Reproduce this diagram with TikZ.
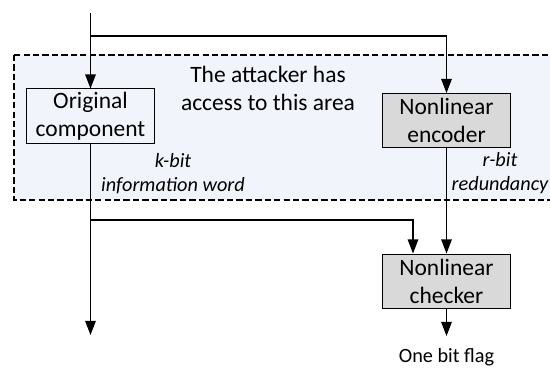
\documentclass[tikz,border=0pt]{standalone}
\usepackage{fontspec}
\setmainfont{Carlito}
\usetikzlibrary{arrows.meta, positioning}
\definecolor{areafill}{RGB}{241,244,250}
\definecolor{boxgray}{RGB}{217,217,217}
\tikzset{
	unit/.style={draw, line width=0.7pt, minimum width=3.175cm, minimum height=1.35cm, inner sep=0pt, align=center, font=\fontsize{16.7}{19.9}\selectfont},
	grayunit/.style={unit, fill=boxgray},
	wire/.style={line width=0.8pt, -{Triangle[length=10pt, width=7.5pt]}},
	buslabel/.style={align=center, font=\fontsize{14.4}{17}\selectfont\itshape}
}
\begin{document}
\begin{tikzpicture}[x=0.025cm, y=-0.025cm]
	     \clip (0,0) rectangle (550,367);
	     \useasboundingbox (0,0) rectangle (550,367);
	     % area %
	     \fill[areafill] (14,55) rectangle (560,200);
	     \draw[line width=1.3pt, dash pattern=on 4.5pt off 2.2pt] (14,55) rectangle (560,200);
	     \node[align=center, font=\fontsize{16.7}{19.9}\selectfont] (area) at (268,88) {The attacker has\\access to this area};

		 % nodes %
		 \node[unit] (orig) at (90.5,116) {Original\\component};
		 \node[grayunit] (enc) at (446.5,120.5) {Nonlinear\\encoder};
		 \node[grayunit] (chk) at (446.5,281) {Nonlinear\\checker};
		 \node[buslabel] (kbit) at (173,173.5) {k-bit\\information word};
		 \node[buslabel] (rbit) at (500,173.5) {r-bit\\redundancy};
		 \node[anchor=base, font=\fontsize{14.4}{17}\selectfont] (flagtxt) at (446.5,362) {One bit flag};
		 \coordinate (in) at (90.5,13);
		 \coordinate (split) at (90.5,36);
		 \coordinate (tap) at (90.5,220);
		 \coordinate (out) at (90.5,335);
		 \coordinate (flag) at (446.5,336);

		 % edges %
		 \draw[wire] (in) -- (orig);
		 \draw[wire] (split) -| (enc);
		 \draw[wire] (orig) -- (out);
		 \draw[wire] (tap) -| ([xshift=-0.8375cm]chk.north);
		 \draw[wire] (enc) -- (chk);
		 \draw[wire] (chk) -- (flag);
	     \end{tikzpicture}
\end{document}
